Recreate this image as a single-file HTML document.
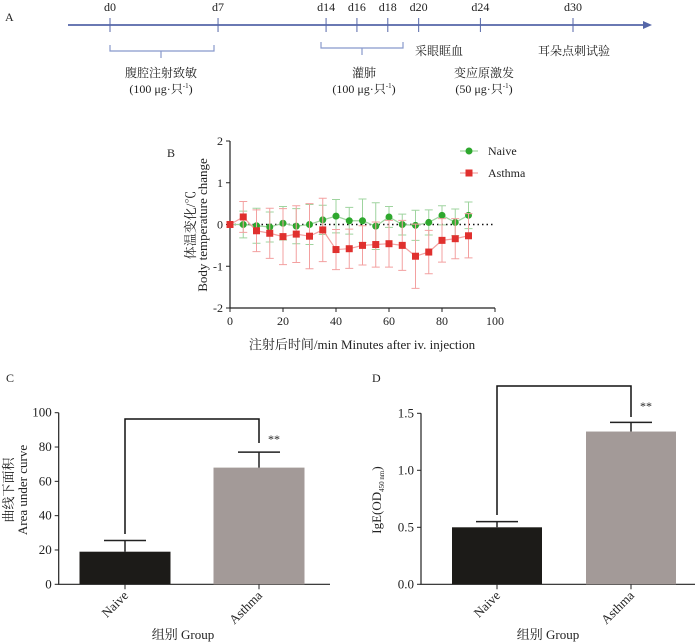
<!DOCTYPE html>
<html><head><meta charset="utf-8"><style>
body{margin:0;background:#fff;}
svg{display:block;font-family:"Liberation Serif","Noto Serif CJK SC","Noto Sans CJK SC",serif;}
</style></head><body>
<svg id="root" width="700" height="644" viewBox="0 0 700 644">
<!-- Panel A -->
<g font-size="12" fill="#222">
<text x="5" y="21" font-size="12">A</text>
<line x1="68" y1="25" x2="645" y2="25" stroke="#5566a8" stroke-width="1.8"/>
<polygon points="643,21 652,25 643,29" fill="#5566a8"/>
<g id="days" stroke="#5566a8" stroke-width="1"></g>
<path d="M110,45 V51 H214 V45 M161,51 V58" fill="none" stroke="#8899cc" stroke-width="1.2"/>
<path d="M321,42 V48 H403 V42 M362,48 V55" fill="none" stroke="#8899cc" stroke-width="1.2"/>
<text x="161" y="77" text-anchor="middle">腹腔注射致敏</text>
<text x="161" y="93" text-anchor="middle">(100 μg·只<tspan font-size="7" dy="-5">-1</tspan><tspan dy="5">)</tspan></text>
<text x="364" y="77" text-anchor="middle">灌肺</text>
<text x="364" y="93" text-anchor="middle">(100 μg·只<tspan font-size="7" dy="-5">-1</tspan><tspan dy="5">)</tspan></text>
<text x="439" y="55" text-anchor="middle">采眼眶血</text>
<text x="484" y="77" text-anchor="middle">变应原激发</text>
<text x="484" y="93" text-anchor="middle">(50 μg·只<tspan font-size="7" dy="-5">-1</tspan><tspan dy="5">)</tspan></text>
<text x="574" y="55" text-anchor="middle">耳朵点刺试验</text>
</g>
<!-- Panel B -->
<g id="pb" font-size="12" fill="#222">
<text x="167" y="157">B</text>
<text transform="translate(195,225) rotate(-90)" text-anchor="middle" font-size="13">体温变化/℃</text>
<text transform="translate(207,225) rotate(-90)" text-anchor="middle" font-size="13">Body temperature change</text>
<text x="362" y="349" text-anchor="middle" font-size="13">注射后时间/min Minutes after iv. injection</text>
<g>
<line x1="460" y1="151" x2="478" y2="151" stroke="#8dcf8d" stroke-width="1"/>
<circle cx="469" cy="151" r="3.5" fill="#2ea82e"/>
<text x="488" y="155">Naive</text>
<line x1="460" y1="173" x2="478" y2="173" stroke="#f08f8f" stroke-width="1"/>
<rect x="465.5" y="169.5" width="7" height="7" fill="#e0302e"/>
<text x="488" y="177">Asthma</text>
</g>
</g>
<!-- Panel C -->
<g id="pc" font-size="12" fill="#222">
<text x="6" y="382">C</text>
<text transform="translate(13,490) rotate(-90)" text-anchor="middle" font-size="13">曲线下面积</text>
<text transform="translate(27,490) rotate(-90)" text-anchor="middle" font-size="13">Area under curve</text>
<text x="183" y="639" text-anchor="middle" font-size="13">组别 Group</text>
</g>
<!-- Panel D -->
<g id="pd" font-size="12" fill="#222">
<text x="372" y="382">D</text>
<text transform="translate(381,500) rotate(-90)" text-anchor="middle" font-size="13">IgE(OD<tspan font-size="7" dy="3">450 nm</tspan><tspan dy="-3">)</tspan></text>
<text x="548" y="639" text-anchor="middle" font-size="13">组别 Group</text>
</g>
</svg>
<script>
const NS="http://www.w3.org/2000/svg";
function mk(p,tag,a){const e=document.createElementNS(NS,tag);for(const k in a)e.setAttribute(k,a[k]);p.appendChild(e);return e;}
// Panel A
const dayLabels=["d0","d7","d14","d16","d18","d20","d24","d30"];
const dayValues=[0,7,14,16,18,20,24,30];
const gd=document.getElementById('days');
const dx=d=>110+d*(573-110)/30;
dayValues.forEach((d,i)=>{
 const l=mk(gd,'line',{x1:dx(d),y1:18,x2:dx(d),y2:32});
 
 
 const t=mk(gd.parentNode,'text',{x:dx(d),y:11,'text-anchor':'middle',stroke:'none'});
 t.textContent=dayLabels[i];
 
 
});
// Panel B
const times=[0,5,10,15,20,25,30,35,40,45,50,55,60,65,70,75,80,85,90];
const naiveMean=[0,0,-0.03,-0.06,0.03,-0.04,0,0.11,0.2,0.09,0.09,-0.04,0.18,0,-0.02,0.05,0.22,0.05,0.22];
const naiveErr=[0,0.32,0.42,0.36,0.4,0.42,0.48,0.35,0.4,0.32,0.52,0.56,0.25,0.25,0.36,0.3,0.23,0.32,0.32];
const asthmaMean=[0,0.18,-0.15,-0.21,-0.29,-0.23,-0.28,-0.13,-0.6,-0.58,-0.5,-0.48,-0.46,-0.5,-0.76,-0.66,-0.38,-0.34,-0.27];
const asthmaErr=[0,0.37,0.5,0.6,0.67,0.68,0.78,0.76,0.48,0.47,0.47,0.54,0.56,0.6,0.77,0.52,0.52,0.48,0.53];
const bxTicks=[0,20,40,60,80,100];
const byTicks=[-2,-1,0,1,2];
const pb=document.getElementById('pb');
const bx=v=>230+v*(495-230)/100, by=v=>224.5-v*(308-141)/4;
const bax=mk(pb,'path',{d:`M${bx(0)},${by(2)} V${by(-2)} H${bx(100)}`,fill:'none',stroke:'#222','stroke-width':1.2});

byTicks.forEach(v=>{
 const t=mk(pb,'line',{x1:bx(0)-4,y1:by(v),x2:bx(0),y2:by(v),stroke:'#222'});
 
 const l=mk(pb,'text',{x:bx(0)-7,y:by(v)+4,'text-anchor':'end'});l.textContent=v;
 
});
bxTicks.forEach(v=>{
 const t=mk(pb,'line',{x1:bx(v),y1:by(-2),x2:bx(v),y2:by(-2)+4,stroke:'#222'});
 
 const l=mk(pb,'text',{x:bx(v),y:by(-2)+17,'text-anchor':'middle'});l.textContent=v;
 
});
const zl=mk(pb,'line',{x1:bx(0),y1:by(0),x2:bx(100),y2:by(0),stroke:'#111','stroke-width':1.5,'stroke-dasharray':'1.5,3'});

function series(mean,err,light,dark,kind,name){
 times.forEach((t,i)=>{
  if(!err[i])return;
  const x=bx(t),y1=by(mean[i]+err[i]),y2=by(mean[i]-err[i]);
  const e=mk(pb,'path',{d:`M${x},${y1} V${y2} M${x-4},${y1} H${x+4} M${x-4},${y2} H${x+4}`,stroke:light,fill:'none','stroke-width':1});
  
 });
 const ln=mk(pb,'polyline',{points:times.map((t,i)=>bx(t)+','+by(mean[i])).join(' '),fill:'none',stroke:light,'stroke-width':1.2});
 
 times.forEach((t,i)=>{
  let m;
  if(kind==='c')m=mk(pb,'circle',{cx:bx(t),cy:by(mean[i]),r:3.5,fill:dark});
  else m=mk(pb,'rect',{x:bx(t)-3.5,y:by(mean[i])-3.5,width:7,height:7,fill:dark});
  
 });
}
series(naiveMean,naiveErr,'#9fd49f','#2ea82e','c','naive');
series(asthmaMean,asthmaErr,'#f3a0a0','#e0302e','s','asthma');
// Bar panels
const groups=["Naive","Asthma"];
const aucMean=[19,68], aucErr=[6.5,9];
const aucTicks=[0,20,40,60,80,100];
const igeMean=[0.5,1.34], igeErr=[0.05,0.08];
const igeTicks=[0,0.5,1.0,1.5];
const barColors=['#1c1b18','#a39a98'];
function barChart(g,pre,mean,err,ticks,fmt,ax,ay,cfg){
 const a=mk(g,'path',{d:`M${ax(0)},${ay(cfg.ymax)} V${ay(0)} H${cfg.xend}`,fill:'none',stroke:'#222','stroke-width':1.2});
 
 ticks.forEach(v=>{
  const t=mk(g,'line',{x1:ax(0)-4,y1:ay(v),x2:ax(0),y2:ay(v),stroke:'#222'});
  
  const l=mk(g,'text',{x:ax(0)-7,y:ay(v)+4,'text-anchor':'end','font-size':13});l.textContent=fmt(v);
  
 });
 groups.forEach((gr,i)=>{
  const cx=cfg.centers[i];
  const r=mk(g,'rect',{x:cx-cfg.w/2,y:ay(mean[i]),width:cfg.w,height:ay(0)-ay(mean[i]),fill:barColors[i]});
  
  const e=mk(g,'path',{d:`M${cx},${ay(mean[i])} V${ay(mean[i]+err[i])} M${cx-21},${ay(mean[i]+err[i])} H${cx+21}`,stroke:'#222','stroke-width':1.5,fill:'none'});
  
  const t=mk(g,'line',{x1:cx,y1:ay(0),x2:cx,y2:ay(0)+5,stroke:'#222'});
  
  const l=mk(g,'text',{transform:`translate(${cx+4},${ay(0)+12}) rotate(-45)`,'text-anchor':'end','font-size':13});l.textContent=gr;
  
 });
 const b=mk(g,'path',{d:`M${cfg.centers[0]},${cfg.bl} V${cfg.bt} H${cfg.centers[1]} V${cfg.br}`,fill:'none',stroke:'#111','stroke-width':1.5});
 
 const s=mk(g,'text',{x:cfg.centers[1]+9,y:cfg.bt+24,'font-size':12});s.textContent='**';
 
}
const cy=v=>584.3-v*(584.3-412.7)/100;
barChart(document.getElementById('pc'),'c',aucMean,aucErr,aucTicks,v=>v,()=>58.7,cy,{ymax:100,xend:330,centers:[125,259],w:91,bl:534,bt:419,br:443});
const dy=v=>584.3-v*(584.3-413.3)/1.5;
barChart(document.getElementById('pd'),'d',igeMean,igeErr,igeTicks,v=>v.toFixed(1),()=>421,dy,{ymax:1.5,xend:695,centers:[497,631],w:90,bl:515,bt:386,br:417});
</script>
</body></html>
